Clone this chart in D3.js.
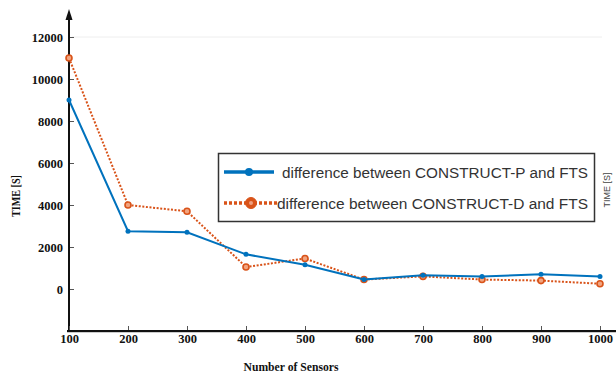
<!DOCTYPE html>
<html>
<head>
<meta charset="utf-8">
<script src="https://cdn.jsdelivr.net/npm/d3@7"></script>
<style>
  html, body { margin: 0; padding: 0; background: #fff; }
  svg { display: block; }
</style>
</head>
<body>
<svg id="chart" width="616" height="374"></svg>
<script>
// Number of sensors on the x axis
const sensors = [100, 200, 300, 400, 500, 600, 700, 800, 900, 1000];
// Time differences in seconds
const diffP = [9000, 2750, 2700, 1650, 1150, 450, 650, 600, 700, 600];
const diffD = [11000, 4000, 3700, 1050, 1450, 450, 600, 450, 400, 250];
const yTicks = [0, 2000, 4000, 6000, 8000, 10000, 12000];
const seriesNames = [
  "difference between CONSTRUCT-P and FTS",
  "difference between CONSTRUCT-D and FTS"
];

const blue = "#0072BD", orange = "#D95319";
const serif = "'Liberation Serif', 'Times New Roman', serif";
const svg = d3.select("#chart");

const x = d3.scaleLinear().domain([100, 1000]).range([69, 600]);
const y = d3.scaleLinear().domain([-2000, 12000]).range([331, 37]);

// faint top frame line
svg.append("line")
  .attr("x1", 72).attr("x2", 602).attr("y1", y(12000)).attr("y2", y(12000))
  .attr("stroke", "#eeeeee").attr("stroke-width", 1);

// y axis
const yAxis = svg.append("g")
  .attr("transform", `translate(${x(100)},0)`)
  .call(d3.axisLeft(y).tickValues(yTicks).tickSizeInner(-5).tickSizeOuter(0).tickPadding(6)
        .tickFormat(d3.format("d")));
yAxis.select(".domain").remove();
yAxis.selectAll(".tick line").attr("stroke", "#555").attr("stroke-width", 1);
yAxis.selectAll(".tick text")
  .attr("font-family", serif)
  .attr("font-weight", "bold").attr("font-size", 12.5).attr("fill", "#111");

// vertical axis line with arrow
svg.append("line")
  .attr("x1", x(100)).attr("x2", x(100)).attr("y1", 332).attr("y2", 16)
  .attr("stroke", "#111").attr("stroke-width", 2);
svg.append("path")
  .attr("d", `M${x(100)},9 L${x(100) - 3.5},20 L${x(100) + 3.5},20 Z`)
  .attr("fill", "#111");

// x axis
const xAxis = svg.append("g")
  .attr("transform", `translate(0,${y(-2000)})`)
  .call(d3.axisBottom(x).tickValues(sensors).tickSizeInner(-5).tickSizeOuter(0).tickPadding(3)
        .tickFormat(d3.format("d")));
xAxis.select(".domain").remove();
xAxis.selectAll(".tick line").attr("stroke", "#555").attr("stroke-width", 1);
xAxis.selectAll(".tick text")
  .attr("font-family", serif)
  .attr("font-weight", "bold").attr("font-size", 12.5).attr("fill", "#111");
svg.append("line")
  .attr("x1", 67).attr("x2", 616).attr("y1", y(-2000) + 1).attr("y2", y(-2000) + 1)
  .attr("stroke", "#999").attr("stroke-width", 1);
svg.append("line")
  .attr("x1", 67).attr("x2", 616).attr("y1", y(-2000)).attr("y2", y(-2000))
  .attr("stroke", "#111").attr("stroke-width", 2);

// axis titles
svg.append("text")
  .attr("x", 291).attr("y", 371).attr("text-anchor", "middle")
  .attr("font-family", serif)
  .attr("font-weight", "bold").attr("font-size", 11.5).attr("fill", "#111")
  .attr("textLength", 95).attr("lengthAdjust", "spacingAndGlyphs")
  .text("Number of Sensors");
svg.append("text")
  .attr("transform", "translate(20,196) rotate(-90)").attr("text-anchor", "middle")
  .attr("font-family", serif)
  .attr("font-weight", "bold").attr("font-size", 13).attr("fill", "#111")
  .attr("textLength", 42).attr("lengthAdjust", "spacingAndGlyphs")
  .text("TIME [S]");
svg.append("text")
  .attr("transform", "translate(610,190) rotate(-90)").attr("text-anchor", "middle")
  .attr("font-family", "'Liberation Sans', Arial, sans-serif")
  .attr("font-size", 9).attr("fill", "#444")
  .text("TIME [S]");

const line = d3.line().x((d, i) => x(sensors[i])).y(d => y(d));

// series D (dotted, ring markers)
svg.append("path").datum(diffD)
  .attr("d", line).attr("fill", "none")
  .attr("stroke", orange).attr("stroke-width", 2).attr("stroke-dasharray", "2,1.6");
svg.append("g").selectAll("circle").data(diffD).join("circle")
  .attr("cx", (d, i) => x(sensors[i])).attr("cy", d => y(d)).attr("r", 3)
  .attr("fill", "#f2a47f").attr("stroke", orange).attr("stroke-width", 1.6);

// series P (solid, filled dots)
svg.append("path").datum(diffP)
  .attr("d", line).attr("fill", "none")
  .attr("stroke", blue).attr("stroke-width", 2);
svg.append("g").selectAll("circle").data(diffP).join("circle")
  .attr("cx", (d, i) => x(sensors[i])).attr("cy", d => y(d)).attr("r", 2.5)
  .attr("fill", blue);

// legend
const lg = svg.append("g");
lg.append("rect")
  .attr("x", 218.5).attr("y", 153.5).attr("width", 376).attr("height", 68)
  .attr("fill", "#fff").attr("stroke", "#333").attr("stroke-width", 1.5);
const rows = [
  { name: seriesNames[0], color: blue, dash: null, y: 172, x0: 224, x1: 274, tx: 282 },
  { name: seriesNames[1], color: orange, dash: "3,2", y: 203, x0: 224, x1: 278, tx: 277 }
];
rows.forEach((r, i) => {
  lg.append("line")
    .attr("x1", r.x0).attr("x2", r.x1).attr("y1", r.y).attr("y2", r.y)
    .attr("stroke", r.color).attr("stroke-width", 3.5)
    .attr("stroke-dasharray", r.dash);
  if (i === 0) {
    lg.append("circle").attr("cx", (r.x0 + r.x1) / 2).attr("cy", r.y).attr("r", 4).attr("fill", r.color);
  } else {
    lg.append("circle").attr("cx", (r.x0 + r.x1) / 2).attr("cy", r.y).attr("r", 5.5)
      .attr("fill", r.color).attr("stroke", r.color).attr("stroke-width", 1);
    lg.append("circle").attr("cx", (r.x0 + r.x1) / 2).attr("cy", r.y).attr("r", 2)
      .attr("fill", "#f0a080");
  }
  lg.append("text")
    .attr("x", r.tx).attr("y", r.y + 5.5)
    .attr("font-family", "'Liberation Sans', Arial, sans-serif")
    .attr("font-size", 15.5).attr("fill", "#333")
    .attr("textLength", 588 - r.tx).attr("lengthAdjust", "spacingAndGlyphs")
    .text(r.name);
});
</script>
</body>
</html>
